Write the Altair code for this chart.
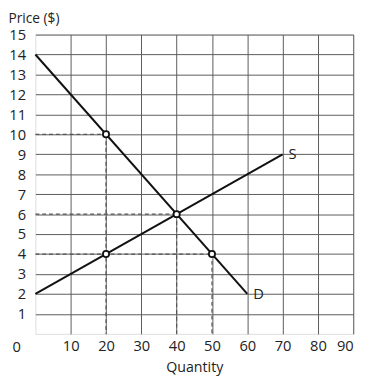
import altair as alt
import pandas as pd

demand_q = [0, 60]
demand_p = [14, 2]
supply_q = [0, 70]
supply_p = [2, 9]
point_q = [20, 40, 50, 20]
point_p = [10, 6, 4, 4]
guide_x = [0, 0, 0, 20, 40, 50]
guide_y = [10, 6, 4, 10, 6, 4]
guide_x2 = [20, 40, 50, 20, 40, 50]
guide_y2 = [10, 6, 4, 0, 0, 0]
label_text = ["S", "D"]
label_q = [70, 60]
label_p = [9, 2]
x_ticks = [10, 20, 30, 40, 50, 60, 70, 80, 90]
y_ticks = list(range(1, 16))

FONT = "Open Sans"

xs = alt.Scale(domain=[0, 90], nice=False)
ys = alt.Scale(domain=[0, 15], nice=False)

lines_df = pd.DataFrame({
    "q": demand_q + supply_q,
    "p": demand_p + supply_p,
    "curve": ["D"] * 2 + ["S"] * 2,
})
pts_df = pd.DataFrame({"q": point_q, "p": point_p})
guides_df = pd.DataFrame({"q": guide_x, "p": guide_y, "q2": guide_x2, "p2": guide_y2})
labels_df = pd.DataFrame({"t": label_text, "q": label_q, "p": label_p})
zero_df = pd.DataFrame({"t": ["0"], "q": [0], "p": [0]})

x_axis = alt.Axis(
    values=x_ticks, title="Quantity", grid=True, gridColor="#5a5a5a", gridOpacity=1,
    gridWidth=1, domain=False, ticks=False, labelPadding=5, labelFontSize=15,
    labelFont=FONT, labelColor="#222", labelOverlap=False, titleFont=FONT, titleFontSize=14.5,
    titleFontWeight="normal", titleColor="#222", titlePadding=8)
y_axis = alt.Axis(
    values=y_ticks, title="Price ($)", grid=True, gridColor="#5a5a5a", gridOpacity=1,
    gridWidth=1, domain=False, ticks=False, labelPadding=10, labelFontSize=15,
    labelFont=FONT, labelColor="#222", labelOverlap=False, titleFont=FONT, titleFontSize=14,
    titleFontWeight="normal", titleColor="#222", titleAngle=0, titleAlign="left",
    titleBaseline="top", titleX=-28, titleY=-23)

X = alt.X("q:Q", scale=xs, axis=x_axis)
Y = alt.Y("p:Q", scale=ys, axis=y_axis)

guides = alt.Chart(guides_df).mark_rule(
    color="#555", strokeWidth=1.2, strokeDash=[4, 3]
).encode(x=X, y=Y, x2="q2:Q", y2="p2:Q")

lines = alt.Chart(lines_df).mark_line(color="#111", strokeWidth=2).encode(
    x=X, y=Y, detail="curve:N")

pts = alt.Chart(pts_df).mark_point(
    shape="circle", filled=True, fill="white", stroke="#111", strokeWidth=1.8,
    size=40, opacity=1
).encode(x=X, y=Y)

labels = alt.Chart(labels_df).mark_text(
    align="left", baseline="middle", dx=6, fontSize=15, font=FONT, color="#222"
).encode(x=X, y=Y, text="t:N")

zero = alt.Chart(zero_df).mark_text(
    align="center", baseline="middle", dx=-19, dy=14, fontSize=15, font=FONT, color="#222"
).encode(x=X, y=Y, text="t:N")

chart = alt.layer(lines, guides, pts, labels, zero).properties(
    width=325, height=306,
    padding={"left": 28, "top": 23, "right": 11, "bottom": 42},
    autosize=alt.AutoSizeParams(type="none"),
).configure_view(stroke="#5a5a5a", strokeWidth=1).configure(background="white")

chart.save("out.html", embed_options={"renderer": "svg", "actions": False})
